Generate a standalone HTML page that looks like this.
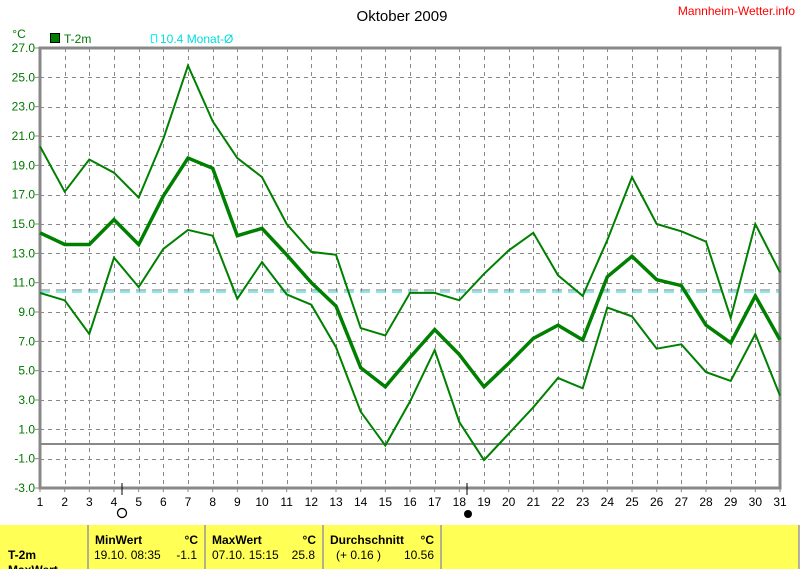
<!DOCTYPE html>
<html><head><meta charset="utf-8"><style>
html,body{margin:0;padding:0;background:#fff;width:800px;height:569px;overflow:hidden;font-family:"Liberation Sans",sans-serif}
svg{position:absolute;left:0;top:0}
</style></head><body>
<svg id="s" width="800" height="569" xmlns="http://www.w3.org/2000/svg" font-family="Liberation Sans, sans-serif">
<text x="402" y="21" font-size="15" text-anchor="middle" fill="#000">Oktober 2009</text>
<text x="795" y="15" font-size="12" text-anchor="end" fill="#f00">Mannheim-Wetter.info</text>
<text x="19" y="38" font-size="12" text-anchor="middle" fill="#070">°C</text>
<rect x="50.5" y="33.5" width="9" height="9" fill="#008000" stroke="#000"/>
<text x="64" y="43" font-size="12" fill="#070">T-2m</text>
<path d="M151.5 34.5 V42.5 H154 M151.5 34.5 H156.5 V42.5" fill="none" stroke="#0ff"/>
<text x="160" y="43" font-size="12" fill="#0dd">10.4 Monat-Ø</text>
<rect x="0" y="525" width="799" height="44" fill="#ffff55"/>
<g stroke="#999" stroke-width="1.5"><line x1="88" y1="525" x2="88" y2="569"/><line x1="205" y1="525" x2="205" y2="569"/><line x1="323" y1="525" x2="323" y2="569"/><line x1="441" y1="525" x2="441" y2="569"/><line x1="799" y1="525" x2="799" y2="569"/></g>
<g font-size="12" font-weight="bold" fill="#000">
<text x="95" y="544">MinWert</text><text x="198" y="544" text-anchor="end">°C</text>
<text x="212" y="544">MaxWert</text><text x="316" y="544" text-anchor="end">°C</text>
<text x="330" y="544">Durchschnitt</text><text x="434" y="544" text-anchor="end">°C</text>
<text x="8" y="559">T-2m</text>
<text x="8" y="574">MaxWert</text>
</g>
<g font-size="12" fill="#000">
<text x="94" y="559">19.10.  08:35</text><text x="197" y="559" text-anchor="end">-1.1</text>
<text x="212" y="559">07.10.  15:15</text><text x="315" y="559" text-anchor="end">25.8</text>
<text x="336" y="559">(+ 0.16 )</text><text x="434" y="559" text-anchor="end">10.56</text>
</g>
<g id="g"></g>
</svg>
<script>
var g=document.getElementById('g'),NS='http://www.w3.org/2000/svg',h='';
function X(d){return 40+(d-1)*740/30}
function Y(v){return 48+(27-v)*440/30}
for(var d=2;d<=30;d++){var x=Math.round(X(d))+.5;h+='<line x1="'+x+'" y1="48" x2="'+x+'" y2="488" stroke="#888" stroke-dasharray="4,4"/>';}
for(var v=25;v>=-1;v-=2){var y=Math.round(Y(v))+.5;h+='<line x1="40" y1="'+y+'" x2="780" y2="'+y+'" stroke="#888" stroke-dasharray="4,4"/>';}
for(var v=27;v>=-3;v-=2){var y=Y(v);h+='<text x="35" y="'+(y+4)+'" font-size="12" text-anchor="end" fill="#070">'+v.toFixed(1)+'</text><line x1="35" y1="'+y+'" x2="40" y2="'+y+'" stroke="#888"/>';}
for(var d=1;d<=31;d++){var x=X(d);h+='<text x="'+x+'" y="506" font-size="12" text-anchor="middle">'+d+'</text><line x1="'+x+'" y1="488" x2="'+x+'" y2="492" stroke="#888"/>';}
h+='<line x1="40" y1="'+Y(0)+'" x2="780" y2="'+Y(0)+'" stroke="#888" stroke-width="2"/>';
h+='<line x1="40" y1="290" x2="780" y2="290" stroke="#777" stroke-dasharray="10,6"/>';
h+='<line x1="40" y1="292" x2="780" y2="292" stroke="#0dd" stroke-dasharray="10,6"/>';
h+='<rect x="40" y="48" width="740" height="440" fill="none" stroke="#888" stroke-width="3"/>';
var mx=[20.3,17.2,19.4,18.5,16.8,20.8,25.8,22,19.5,18.2,15,13.1,12.9,7.9,7.4,10.3,10.3,9.8,11.6,13.2,14.4,11.5,10.1,13.9,18.2,15,14.5,13.8,8.6,15,11.7];
var me=[14.4,13.6,13.6,15.3,13.6,16.9,19.5,18.8,14.2,14.7,12.9,11,9.4,5.2,3.9,5.9,7.8,6.1,3.9,5.5,7.2,8.1,7.1,11.4,12.8,11.2,10.8,8.1,6.9,10.1,7.1];
var mn=[10.3,9.8,7.5,12.7,10.7,13.3,14.6,14.2,9.9,12.4,10.2,9.5,6.6,2.2,-0.1,2.9,6.4,1.5,-1.1,0.7,2.5,4.5,3.8,9.3,8.7,6.5,6.8,4.9,4.3,7.5,3.3];
function P(a,w){var p=a.map(function(v,i){return X(i+1).toFixed(1)+','+Y(v).toFixed(1)}).join(' ');return '<polyline points="'+p+'" fill="none" stroke="#008000" stroke-width="'+w+'"/>';}
h+=P(mx,2)+P(mn,2)+P(me,3.5);
h+='<line x1="122" y1="483" x2="122" y2="495" stroke="#000"/><circle cx="122" cy="513" r="4.5" fill="none" stroke="#000" stroke-width="1.3"/>';
h+='<line x1="467" y1="483" x2="467" y2="495" stroke="#000"/><circle cx="468" cy="514" r="4" fill="#000"/>';
g.innerHTML=h;
</script>
</body></html>
